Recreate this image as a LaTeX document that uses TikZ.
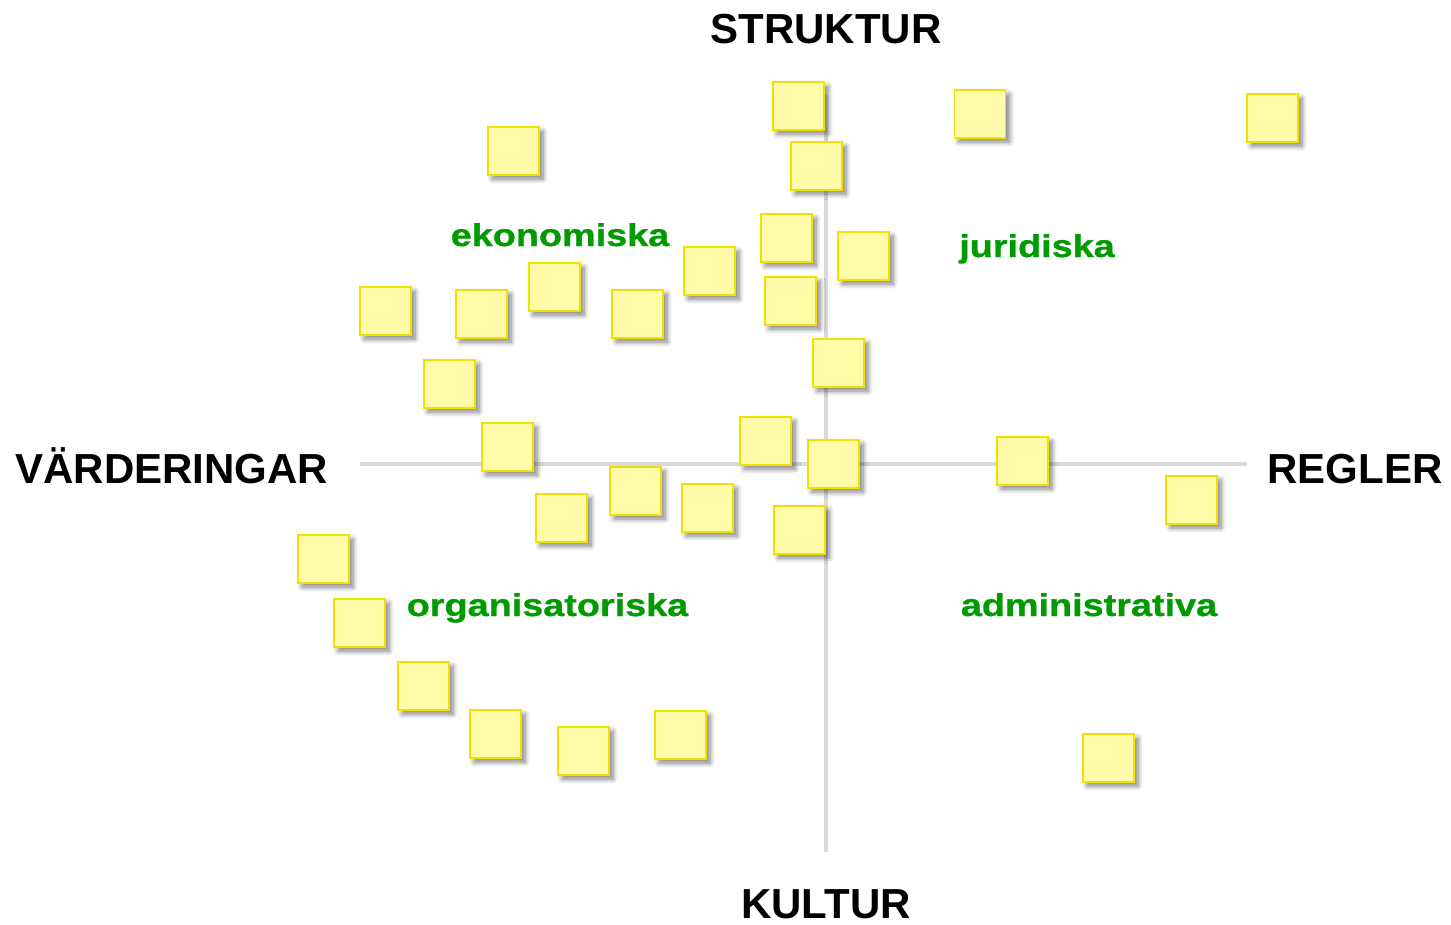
\documentclass[tikz,border=0pt]{standalone}
\usepackage{fontspec}
\setmainfont{Liberation Sans}
\newfontfamily\widefont[FakeStretch=1.2,FakeBold=1]{Liberation Sans Bold}
\usetikzlibrary{shadows.blur}
\definecolor{notefill}{RGB}{255,251,168}
\definecolor{noteline}{RGB}{240,225,0}
\definecolor{axisgray}{RGB}{217,217,217}
\definecolor{areagreen}{RGB}{0,155,0}

\begin{document}
\begin{tikzpicture}[x=1pt,y=-1pt]
\tikzset{note/.style={draw=noteline,fill=notefill,line width=1.5pt,minimum width=51pt,minimum height=48pt,inner sep=0pt,
  blur shadow={shadow xshift=4pt,shadow yshift=-4pt,shadow blur steps=8,shadow blur radius=5pt,shadow opacity=50}}}
\tikzset{pole/.style={font=\fontsize{42}{46}\selectfont\bfseries,inner sep=0pt,anchor=base}}
\tikzset{area/.style={font=\widefont\fontsize{31.5}{34}\selectfont,text=areagreen,inner sep=0pt,anchor=base}}
\tikzset{axis/.style={draw=axisgray,line width=3.5pt}}
\useasboundingbox (0,0) rectangle (1451,924);
% axes
\coordinate (west) at (360,464);
\coordinate (east) at (1247,464);
\coordinate (north) at (826,95);
\coordinate (south) at (826,852);
\draw[axis] (west) -- (east);
\draw[axis] (north) -- (south);
% notes
\foreach \x/\y [count=\i] in {798.5/106,980/114,1272.5/118,513.5/151,816.5/166,786.5/238,863.5/256,709.5/271,
  554.5/287,385.5/311,481.5/314,637.5/314,790.5/301,838.5/363,449.5/384,765.5/441,507.5/447,833.5/464,
  1022.5/461,635.5/491,1191.5/500,561.5/518,707.5/508,799.5/530,323.5/559,359.5/623,423.5/686,
  495.5/734,583.5/751,680.5/735,1108.5/758}
  \node[note] (n\i) at (\x,\y) {};
% poles
\node[pole] (struktur) at (826,43) {STRUKTUR};
\node[pole] (kultur) at (826,918) {KULTUR};
\node[pole] (varderingar) at (172,483) {VÄRDERINGAR};
\node[pole] (regler) at (1355,483) {REGLER};
% areas
\node[area] (ekonomiska) at (560,246) {ekonomiska};
\node[area] (juridiska) at (1037,257) {juridiska};
\node[area] (organisatoriska) at (547.5,616) {organisatoriska};
\node[area] (administrativa) at (1089,616) {administrativa};
\end{tikzpicture}
\end{document}
